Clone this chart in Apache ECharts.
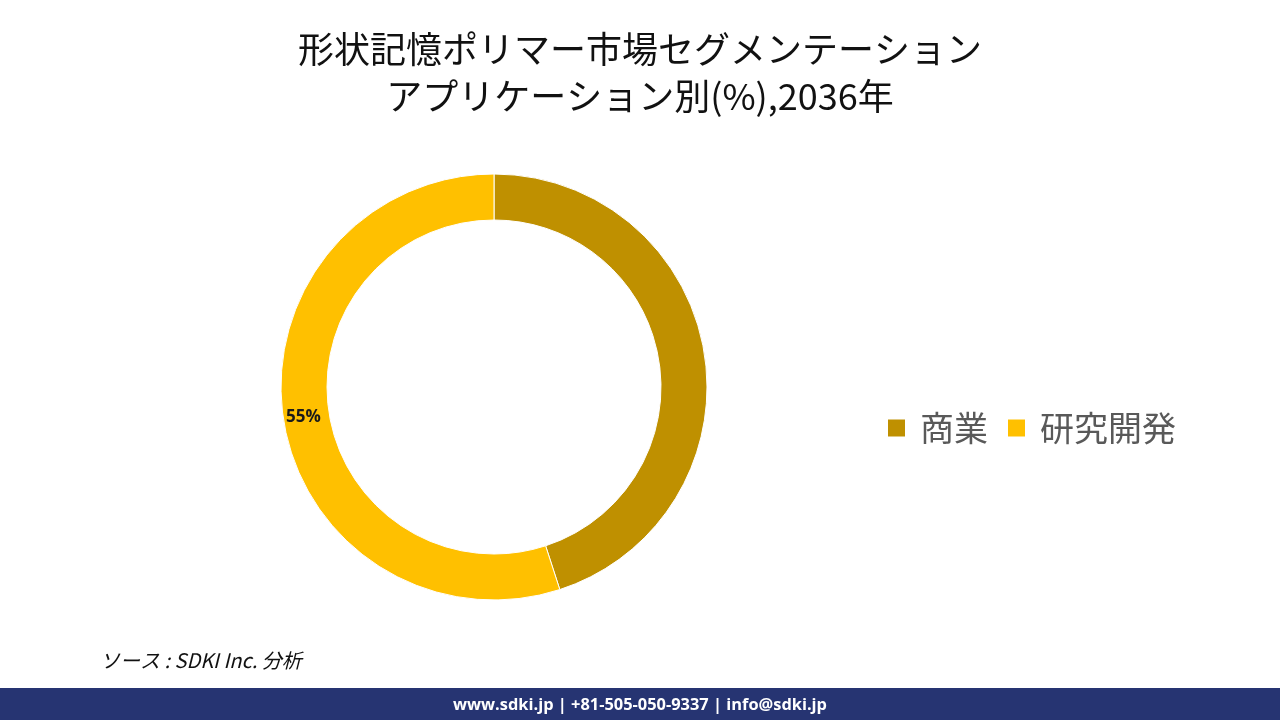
<!DOCTYPE html>
<html>
<head>
<meta charset="utf-8">
<script src="https://cdn.jsdelivr.net/npm/echarts@6/dist/echarts.min.js"></script>
<style>
html,body{margin:0;padding:0;background:#fff;}
#chart{width:1280px;height:720px;}
</style>
</head>
<body>
<div id="chart"></div>
<script>
const titleLines = ['形状記憶ポリマー市場セグメンテーション', 'アプリケーション別(%),2036年'];
const categories = ['商業', '研究開発'];
const values = [45, 55];
const showLabel = [false, true];
const colors = ['#BF9000', '#FFC000'];
const sourceText = 'ソース : SDKI Inc. 分析';
const footerText = 'www.sdki.jp | +81-505-050-9337 | info@sdki.jp';

const chart = echarts.init(document.getElementById('chart'));
chart.setOption({
  backgroundColor: '#ffffff',
  animation: false,
  title: {
    text: titleLines.join('\n'),
    left: 'center',
    top: 21,
    textStyle: {
      fontFamily: '"Noto Sans CJK JP", sans-serif',
      fontSize: 36,
      fontWeight: 'normal',
      color: '#111111',
      lineHeight: 47
    }
  },
  legend: {
    left: 881,
    top: 406,
    orient: 'horizontal',
    itemWidth: 19,
    itemHeight: 19,
    itemGap: 18,
    icon: 'rect',
    textStyle: {
      fontFamily: '"Noto Sans CJK JP", sans-serif',
      fontSize: 34,
      color: '#595959',
      padding: [0, 0, 0, 9]
    },
    data: categories
  },
  series: [{
    type: 'pie',
    center: [494, 387],
    radius: [167, 213],
    startAngle: 90,
    clockwise: true,
    avoidLabelOverlap: false,
    itemStyle: { borderColor: '#ffffff', borderWidth: 1 },
    label: {
      show: true,
      position: 'inside',
      formatter: '{c}%',
      fontFamily: '"Open Sans", "Noto Sans", sans-serif',
      fontSize: 17,
      fontWeight: 'bold',
      color: '#1a1a1a'
    },
    labelLine: { show: false },
    emphasis: { disabled: true },
    data: categories.map((n, i) => ({
      name: n,
      value: values[i],
      itemStyle: { color: colors[i] },
      label: { show: showLabel[i] }
    }))
  }],
  graphic: [
    {
      type: 'text',
      left: 100,
      top: 650,
      style: {
        text: sourceText,
        fontFamily: '"Noto Sans CJK JP", sans-serif',
        fontSize: 20,
        fontStyle: 'italic',
        fill: '#111111'
      }
    },
    {
      type: 'rect',
      shape: { x: 0, y: 688, width: 1280, height: 32 },
      style: { fill: '#263472' }
    },
    {
      type: 'text',
      x: 640,
      y: 705,
      style: {
        text: footerText,
        align: 'center',
        verticalAlign: 'middle',
        fontFamily: '"Open Sans", "Noto Sans", sans-serif',
        fontSize: 16.4,
        fontWeight: 'bold',
        fill: '#ffffff'
      }
    }
  ]
});
</script>
</body>
</html>
